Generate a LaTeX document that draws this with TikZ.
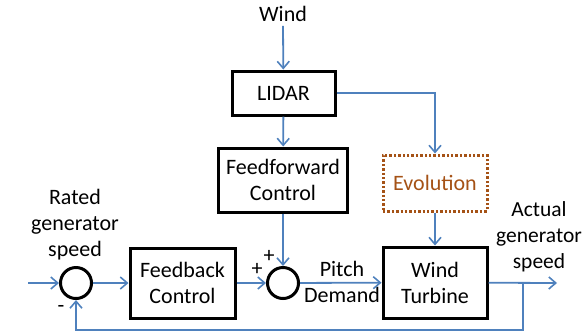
\documentclass[tikz,border=0pt]{standalone}
\usepackage{fontspec}
\setmainfont{Carlito}
\usepackage{tikz}
\usetikzlibrary{positioning,arrows.meta,calc}
\definecolor{lineblue}{RGB}{79,129,189}
\definecolor{evobrown}{RGB}{165,82,22}
\tikzset{
  block/.style={
    rectangle, draw=black, line width=3pt,
    minimum width=104pt, minimum height=44pt,
    align=center, inner sep=2pt
  },
  % blocco tratteggiato per l'evoluzione
  dottedblock/.style={block, draw=evobrown, text=evobrown, line width=3pt, dash pattern=on 2.4pt off 2pt},
  summer/.style={circle, draw=black, line width=3pt, minimum size=31pt, inner sep=0pt},
  label/.style={align=center, inner sep=0pt},
  sign/.style={inner sep=0pt},
  flow/.style={draw=lineblue, line width=1.8pt, -{Straight Barb[length=7pt,width=12pt,line width=1.6pt]}},
  plain/.style={draw=lineblue, line width=1.8pt}
}

\begin{document}
\begin{tikzpicture}[x=1pt, y=-1pt, font=\fontsize{22}{26}\selectfont]
\useasboundingbox (0,0) rectangle (585,333);

% Ingresso del vento e LIDAR
\node[label] (wind) at (283,14) {Wind};
\node[block, minimum width=103pt, minimum height=44pt] (lidar) at (283.5,93) {LIDAR};

% Controllo feedforward ed evoluzione
\node[block, minimum width=129pt, minimum height=64pt] (ff) at (283,180) {Feedforward\\Control};
\node[dottedblock, minimum width=104pt, minimum height=56pt] (evo) at (435,183) {Evolution};

% Anello di retroazione
\node[summer] (sum1) at (76,283) {};
\node[block, minimum width=105pt, minimum height=70pt] (fb) at (182.5,283) {Feedback\\Control};
\node[summer] (sum2) at (283,283) {};
\node[block, minimum width=104pt, minimum height=71pt] (wt) at (435,282.5) {Wind\\Turbine};

% Etichette
\node[label] (rated) at (75,225) {Rated\\generator\\speed};
\node[label, font=\fontsize{21.5}{26}\selectfont] (actual) at (539,237) {Actual\\generator\\speed};
\node[label] (pitch) at (342,282) {Pitch\\Demand};
\node[sign] (minus) at (61,309) {-};
\node[sign] (plusa) at (257,269) {+};
\node[sign] (plusb) at (269,256) {+};

% Punti liberi
\coordinate (in) at (28,283);
\coordinate (out) at (557,283);
\coordinate (tap) at (523,283);
\coordinate (fbk) at (523,330);

% Collegamenti
\draw[flow] (wind.south) ++(0,4) -- (lidar);
\draw[flow] (lidar) -- (ff);
\draw[flow] (lidar) -| (evo);
\draw[flow] (ff) -- (sum2);
\draw[flow] (evo) -- (wt);
\draw[flow] (in) -- (sum1);
\draw[flow] (sum1) -- (fb);
\draw[flow] (fb) -- (sum2);
\draw[flow] (sum2) -- (wt);
\draw[flow] (wt) -- (out);
\draw[flow] (tap) -- (fbk) -| (sum1);

\end{tikzpicture}
\end{document}
